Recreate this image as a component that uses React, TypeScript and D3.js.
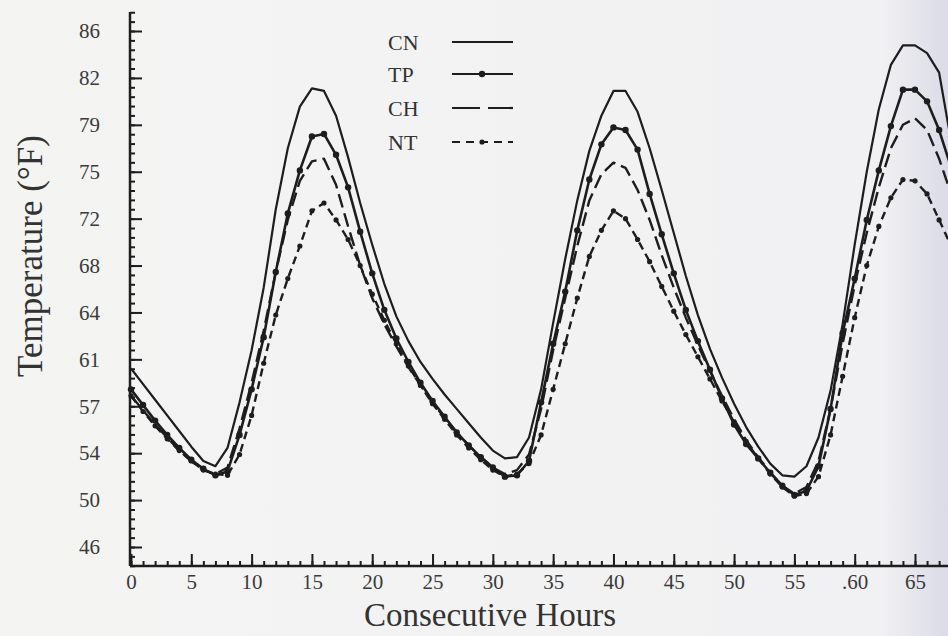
import React, { useRef, useEffect } from 'react';
import * as d3 from 'd3';

const W = 948;
const H = 636;

// hourly readings, hour 0..68
const hours = d3.range(0, 69);

const cn = [
  60.1, 58.9, 57.7, 56.5, 55.3, 54.1, 53.0, 52.6, 54.0, 57.5,
  61.5, 66.3, 72.3, 77.0, 80.2, 81.6, 81.4, 79.5, 76.3, 72.8,
  69.6, 66.6, 64.1, 62.2, 60.6, 59.3, 58.1, 57.0, 55.9, 54.8,
  53.8, 53.2, 53.3, 54.8, 58.5, 63.6, 68.5, 73.0, 76.8, 79.5,
  81.4, 81.4, 79.8, 77.0, 73.8, 70.5, 67.2, 64.2, 61.6, 59.4,
  57.4, 55.6, 54.1, 52.8, 51.9, 51.8, 52.6, 54.8, 58.4, 63.5,
  69.6, 75.2, 80.0, 83.4, 84.9, 84.9, 84.3, 82.8, 77.5,
];

const tp = [
  58.5, 57.3, 56.1, 55.0, 54.0, 53.1, 52.4, 51.9, 52.2, 55.0,
  58.5, 62.5, 67.5, 72.0, 75.3, 77.9, 78.1, 76.5, 74.0, 70.6,
  67.4, 64.6, 62.4, 60.6, 59.0, 57.6, 56.4, 55.2, 54.2, 53.3,
  52.5, 51.8, 51.9, 53.0, 57.5, 62.0, 66.0, 70.7, 74.6, 77.3,
  78.6, 78.4, 76.9, 73.5, 70.4, 67.4, 64.6, 62.2, 60.0, 57.8,
  55.8, 54.3, 53.2, 52.1, 51.1, 50.4, 50.7, 52.6, 57.0, 62.8,
  67.0, 71.5, 75.3, 78.7, 81.5, 81.5, 80.6, 78.4, 75.5,
];

const ch = [
  58.0, 56.9, 55.8, 54.8, 53.8, 53.0, 52.3, 52.0, 52.5, 55.5,
  59.0, 63.0, 67.5, 71.5, 74.5, 76.0, 76.2, 74.2, 71.0, 68.0,
  65.5, 63.5, 61.8, 60.2, 58.8, 57.5, 56.3, 55.2, 54.2, 53.3,
  52.5, 52.0, 52.3, 53.5, 57.0, 61.5, 65.5, 69.5, 73.0, 75.0,
  75.9, 75.5, 73.8, 71.5, 68.8, 66.3, 64.0, 61.9, 59.9, 58.0,
  56.2, 54.6, 53.3, 52.1, 51.1, 50.5, 51.0, 53.0, 57.0, 62.0,
  66.5, 70.5, 74.0, 77.0, 78.8, 79.3, 78.4, 76.2, 73.5,
];

const nt = [
  58.0, 56.8, 55.7, 54.7, 53.8, 53.0, 52.3, 52.0, 51.9, 53.5,
  56.5, 60.5, 64.2, 67.0, 69.5, 72.2, 72.8, 71.5, 70.0, 68.0,
  65.8, 63.8, 62.0, 60.3, 58.8, 57.4, 56.2, 55.0, 54.0, 53.1,
  52.3, 51.8, 52.0, 52.8, 55.0, 58.5, 62.0, 65.5, 68.7, 70.7,
  72.2, 71.6, 70.0, 68.3, 66.4, 64.5, 62.7, 61.0, 59.3, 57.6,
  56.0, 54.5, 53.2, 52.0, 51.0, 50.3, 50.5, 51.8, 55.0, 59.5,
  64.0, 68.0, 71.0, 73.2, 74.6, 74.5, 73.5, 71.5, 69.5,
];

const seriesNames = ['CN', 'TP', 'CH', 'NT'];

const xTickValues = [0, 5, 10, 15, 20, 25, 30, 35, 40, 45, 50, 55, 60, 65];
const xTickLabels = ['0', '5', '10', '15', '20', '25', '30', '35', '40', '45', '50', '55', '.60', '65'];

// the °F labels sit on an even 2 °C grid
const yTickCelsius = [30, 28, 26, 24, 22, 20, 18, 16, 14, 12, 10, 8];
const yTickLabels = ['86', '82', '79', '75', '72', '68', '64', '61', '57', '54', '50', '46'];

const FONT = '"Liberation Serif", "Times New Roman", serif';
const INK = '#1d1d1d';

const Chart = () => {
  const svgRef = useRef<SVGSVGElement | null>(null);

  useEffect(() => {
    const svg = d3.select(svgRef.current);
    svg.selectAll('*').remove();

    const toF = (c: number) => c * 9 / 5 + 32;

    const x = d3.scaleLinear().domain([0, 65]).range([131, 915]);
    const y = d3.scaleLinear().domain([86, 46.4]).range([31, 547]);

    // paper background
    const defs = svg.append('defs');
    const grad = defs.append('linearGradient').attr('id', 'paper').attr('x1', '0').attr('x2', '1').attr('y1', '0').attr('y2', '0');
    grad.append('stop').attr('offset', '0').attr('stop-color', '#f4f4f3');
    grad.append('stop').attr('offset', '0.93').attr('stop-color', '#f1f1f3');
    grad.append('stop').attr('offset', '1').attr('stop-color', '#dadbe6');
    svg.append('rect').attr('width', W).attr('height', H).attr('fill', 'url(#paper)');

    const axisBottomY = 566;
    const axisLeftX = 130;

    // x axis ticks (pointing up)
    const minorX = d3.range(0, 68);
    const gxMinor = svg.append('g').attr('transform', `translate(0, ${axisBottomY})`)
      .call(d3.axisBottom(x).tickValues(minorX).tickSize(-5).tickFormat(() => ''));
    const gxMajor = svg.append('g').attr('transform', `translate(0, ${axisBottomY})`)
      .call(d3.axisBottom(x).tickValues(xTickValues).tickSize(-12).tickPadding(8)
        .tickFormat((_d, i) => xTickLabels[i]));

    // y axis ticks (pointing right)
    const minorY = d3.range(18, 78).map(k => toF(k * 0.4));
    const gyMinor = svg.append('g').attr('transform', `translate(${axisLeftX}, 0)`)
      .call(d3.axisLeft(y).tickValues(minorY).tickSize(-5).tickFormat(() => ''));
    const gyMajor = svg.append('g').attr('transform', `translate(${axisLeftX}, 0)`)
      .call(d3.axisLeft(y).tickValues(yTickCelsius.map(toF)).tickSize(-12).tickPadding(30)
        .tickFormat((_d, i) => yTickLabels[i]));

    [gxMinor, gxMajor, gyMinor, gyMajor].forEach(g => {
      g.select('.domain').remove();
      g.selectAll('line').attr('stroke', INK).attr('stroke-width', 2);
      g.selectAll('text').attr('fill', '#3a3a3a').style('font-family', FONT).style('font-size', '21px');
    });

    // axis lines
    svg.append('line').attr('x1', axisLeftX).attr('x2', W).attr('y1', axisBottomY).attr('y2', axisBottomY)
      .attr('stroke', INK).attr('stroke-width', 2.5);
    svg.append('line').attr('x1', axisLeftX).attr('x2', axisLeftX).attr('y1', 12).attr('y2', axisBottomY)
      .attr('stroke', INK).attr('stroke-width', 2.5);

    // series
    const styles: Record<string, { dash: string | null; marker: number; width: number; legendDash: string | null }> = {
      CN: { dash: null, marker: 0, width: 2.2, legendDash: null },
      TP: { dash: null, marker: 3.2, width: 2.6, legendDash: null },
      CH: { dash: '14,6', marker: 0, width: 2.4, legendDash: '28,8' },
      NT: { dash: '8,5', marker: 2.6, width: 2.4, legendDash: '8,6' },
    };
    const data: Record<string, number[]> = { CN: cn, TP: tp, CH: ch, NT: nt };

    const line = d3.line<number>()
      .x((_d, i) => x(hours[i]))
      .y(d => y(d));

    seriesNames.forEach(name => {
      const s = styles[name];
      const values = data[name];
      svg.append('path')
        .datum(values)
        .attr('d', line)
        .attr('fill', 'none')
        .attr('stroke', INK)
        .attr('stroke-width', s.width)
        .attr('stroke-linejoin', 'round')
        .attr('stroke-dasharray', s.dash);
      if (s.marker > 0) {
        svg.append('g').selectAll('circle')
          .data(values)
          .join('circle')
          .attr('cx', (_d, i) => x(hours[i]))
          .attr('cy', d => y(d))
          .attr('r', s.marker)
          .attr('fill', INK);
      }
    });

    // legend
    const legend = svg.append('g');
    const legendY = [42, 74, 108, 142];
    seriesNames.forEach((name, i) => {
      const s = styles[name];
      legend.append('text')
        .attr('x', 388).attr('y', legendY[i]).attr('dy', '0.35em')
        .attr('fill', '#333').style('font-family', FONT).style('font-size', '22px')
        .text(name);
      legend.append('line')
        .attr('x1', 452).attr('x2', 513).attr('y1', legendY[i]).attr('y2', legendY[i])
        .attr('stroke', INK).attr('stroke-width', 2.2)
        .attr('stroke-dasharray', s.legendDash);
      if (s.marker > 0) {
        legend.append('circle').attr('cx', 482).attr('cy', legendY[i]).attr('r', s.marker).attr('fill', INK);
      }
    });

    // titles
    svg.append('text')
      .attr('transform', 'translate(42, 256) rotate(-90)')
      .attr('text-anchor', 'middle')
      .attr('fill', '#333').style('font-family', FONT).style('font-size', '35px')
      .text('Temperature (°F)');
    svg.append('text')
      .attr('x', 490).attr('y', 626)
      .attr('text-anchor', 'middle')
      .attr('fill', '#333').style('font-family', FONT).style('font-size', '33px')
      .text('Consecutive Hours');
  }, []);

  return <svg ref={svgRef} width={W} height={H} style={{ position: 'absolute', left: 0, top: 0 }} />;
};

export default function App() {
  return <Chart />;
}
